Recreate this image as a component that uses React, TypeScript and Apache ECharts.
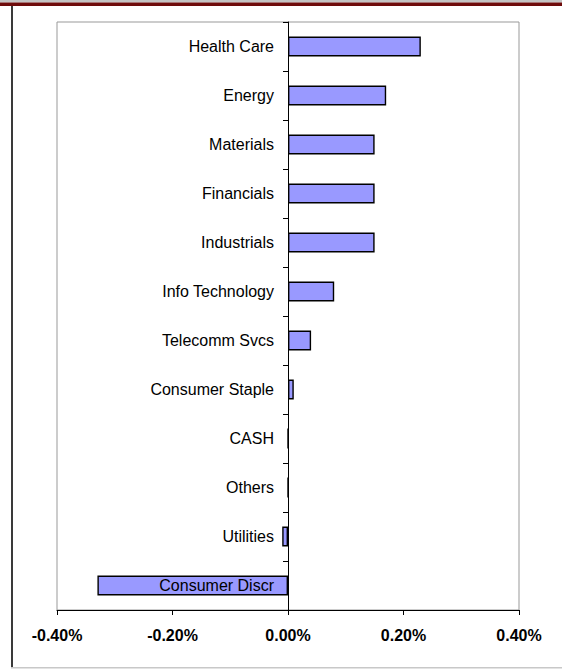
import React, { useEffect, useRef } from "react";
import * as echarts from "echarts";

const categories = [
  "Health Care",
  "Energy",
  "Materials",
  "Financials",
  "Industrials",
  "Info Technology",
  "Telecomm Svcs",
  "Consumer Staple",
  "CASH",
  "Others",
  "Utilities",
  "Consumer Discr",
];
const values = [0.23, 0.17, 0.15, 0.15, 0.15, 0.08, 0.04, 0.01, 0, 0, -0.01, -0.33];
const xTicks = { min: -0.4, max: 0.4, interval: 0.2 };

const FONT = 'Arial, "Liberation Sans", sans-serif';
const W = 562;
const H = 669;
const GRID = { left: 57, right: 43, top: 22, bottom: 59 };

export default function App() {
  const ref = useRef<HTMLDivElement>(null);
  useEffect(() => {
    if (!ref.current) return;
    const chart = echarts.init(ref.current, undefined, { renderer: "svg" });
    const gridWidth = W - GRID.left - GRID.right;
    const zeroOffset = -gridWidth * ((0 - xTicks.min) / (xTicks.max - xTicks.min));
    chart.setOption({
      animation: false,
      backgroundColor: "#ffffff",
      grid: {
        ...GRID,
        containLabel: false,
        outerBoundsMode: "none",
        show: true,
        borderColor: "#999999",
        borderWidth: 1,
        backgroundColor: "transparent",
      },
      xAxis: {
        type: "value",
        min: xTicks.min,
        max: xTicks.max,
        interval: xTicks.interval,
        axisLine: { show: true, onZero: false, lineStyle: { color: "#000", width: 1 } },
        axisTick: { show: true, length: 5, lineStyle: { color: "#000" } },
        splitLine: { show: false },
        axisLabel: {
          margin: 17,
          fontFamily: FONT,
          fontSize: 16,
          fontWeight: "bold",
          color: "#000",
          formatter: (v: number) => v.toFixed(2) + "%",
        },
      },
      yAxis: {
        type: "category",
        inverse: true,
        data: categories,
        position: "left",
        offset: zeroOffset,
        z: 10,
        axisLine: { show: true, onZero: false, lineStyle: { color: "#000", width: 1 } },
        axisTick: { show: true, length: 5, lineStyle: { color: "#000" } },
        splitLine: { show: false },
        axisLabel: {
          margin: 14,
          fontFamily: FONT,
          fontSize: 16,
          color: "#000",
        },
      },
      series: [
        {
          type: "bar",
          data: values,
          barWidth: 20,
          itemStyle: { color: "#9999ff", borderColor: "#000", borderWidth: 1.4 },
        },
      ],
      graphic: [
        { type: "rect", shape: { x: 0, y: 0, width: 562, height: 2.5 }, style: { fill: "#c4c4c4" }, z: 20 },
        { type: "rect", shape: { x: 0, y: 2.5, width: 562, height: 3.5 }, style: { fill: "#6e0b0b" }, z: 20 },
        { type: "rect", shape: { x: 11, y: 6, width: 2, height: 662 }, style: { fill: "#3a3a3a" }, z: 20 },
        { type: "rect", shape: { x: 11, y: 667, width: 551, height: 1.5 }, style: { fill: "#c8c8c8" }, z: 20 },
      ],
    });
    return () => chart.dispose();
  }, []);
  return (
    <div
      ref={ref}
      style={{ position: "absolute", left: 0, top: 0, width: W, height: H }}
    />
  );
}
